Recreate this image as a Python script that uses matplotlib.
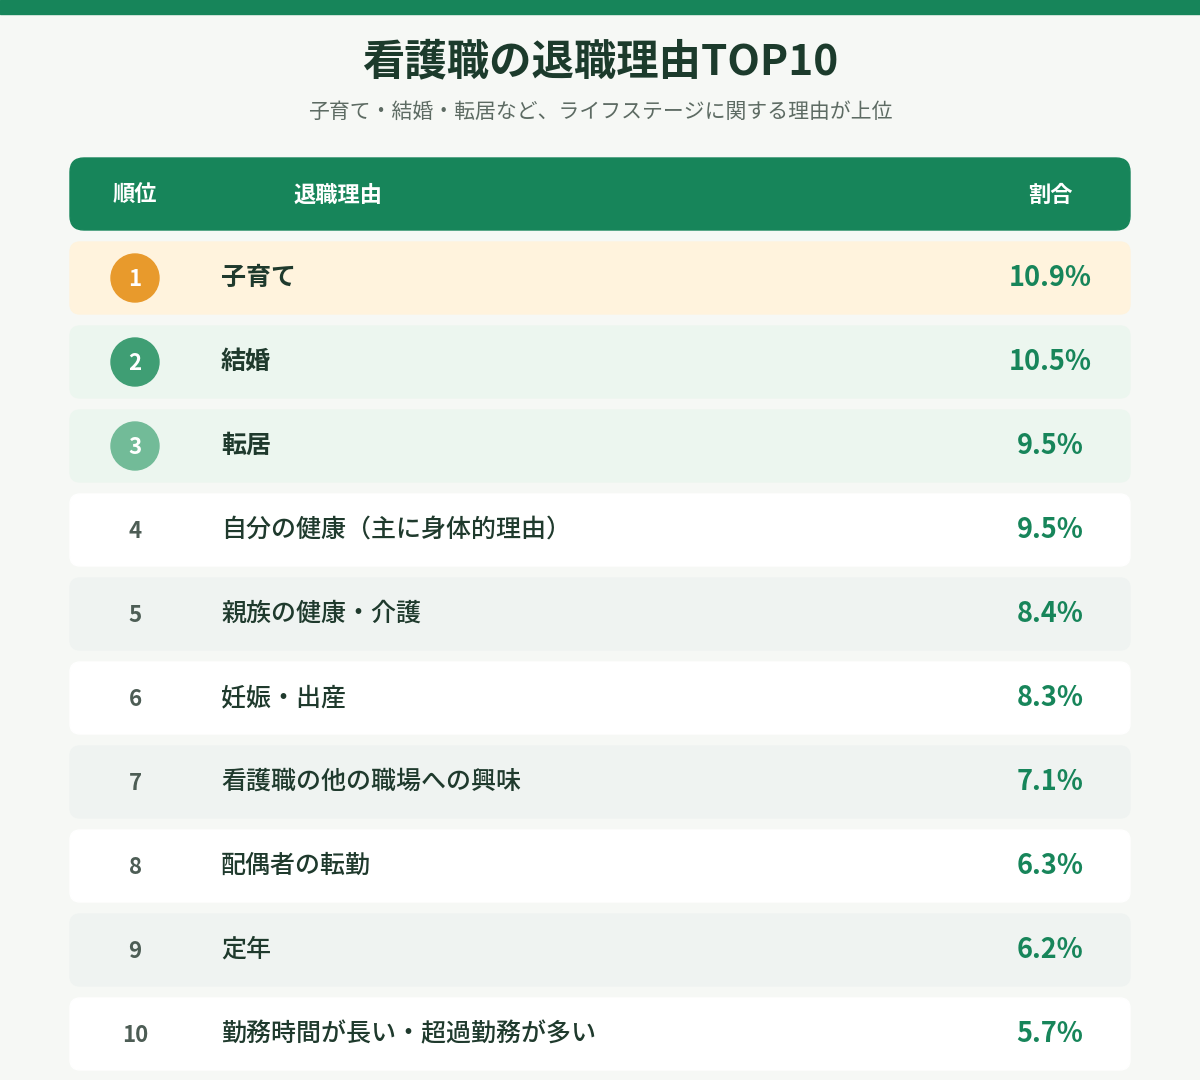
import matplotlib
matplotlib.use("Agg")
import matplotlib.pyplot as plt
from matplotlib.patches import FancyBboxPatch, Circle, Rectangle

plt.rcParams['font.family'] = ['Noto Sans CJK JP', 'DejaVu Sans']

ranks = [1, 2, 3, 4, 5, 6, 7, 8, 9, 10]
reasons = ["子育て", "結婚", "転居", "自分の健康（主に身体的理由）", "親族の健康・介護",
           "妊娠・出産", "看護職の他の職場への興味", "配偶者の転勤", "定年",
           "勤務時間が長い・超過勤務が多い"]
shares = [10.9, 10.5, 9.5, 9.5, 8.4, 8.3, 7.1, 6.3, 6.2, 5.7]

fig = plt.figure(figsize=(12, 10.8), dpi=100)
fig.patch.set_facecolor('#f6f8f5')
ax = fig.add_axes([0, 0, 1, 1])
ax.set_xlim(0, 1200); ax.set_ylim(1080, 0); ax.axis('off')

ax.add_patch(Rectangle((0, 0), 1200, 14, color='#17855a'))
ax.text(600, 62, "看護職の退職理由TOP10", ha='center', va='center', fontsize=30.5,
        fontweight='bold', color='#1c3b2c')
ax.text(600, 112, "子育て・結婚・転居など、ライフステージに関する理由が上位", ha='center',
        va='center', fontsize=15, color='#5d6b63')

ax.add_patch(FancyBboxPatch((70, 158), 1060, 72, boxstyle="round,pad=0,rounding_size=14",
                            color='#17855a'))
for x, t in [(135, "順位"), (338, "退職理由"), (1050, "割合")]:
    ax.text(x, 195, t, ha='center', va='center', fontsize=16, fontweight='bold', color='white')

bgs = {0: '#fff3dd', 1: '#ecf6ef', 2: '#ecf6ef'}
circ = {0: '#e89a2c', 1: '#3f9e74', 2: '#72bb98'}
for i, (r, reason, s) in enumerate(zip(ranks, reasons, shares)):
    top = 242 + 84 * i
    cy = top + 36
    bg = bgs.get(i, 'white' if i % 2 == 1 else '#eff3f1')
    ax.add_patch(FancyBboxPatch((70, top), 1060, 72, boxstyle="round,pad=0,rounding_size=10",
                                color=bg))
    if i in circ:
        ax.add_patch(Circle((135, cy), 24, color=circ[i]))
        ax.text(135, cy + 1, str(r), ha='center', va='center', fontsize=16,
                fontweight='bold', color='white')
        ax.text(221, cy, reason, ha='left', va='center', fontsize=18, fontweight='bold',
                color='#1f3a2d')
    else:
        ax.text(135, cy + 1, str(r), ha='center', va='center', fontsize=16,
                fontweight='bold', color='#4d5d55')
        ax.text(221, cy, reason, ha='left', va='center', fontsize=18, fontweight='medium',
                color='#1f3a2d')
    ax.text(1050, cy, f"{s}%", ha='center', va='center', fontsize=19.5, fontweight='bold',
            color='#17855a')

fig.savefig("out.png", dpi=100, facecolor=fig.get_facecolor())
